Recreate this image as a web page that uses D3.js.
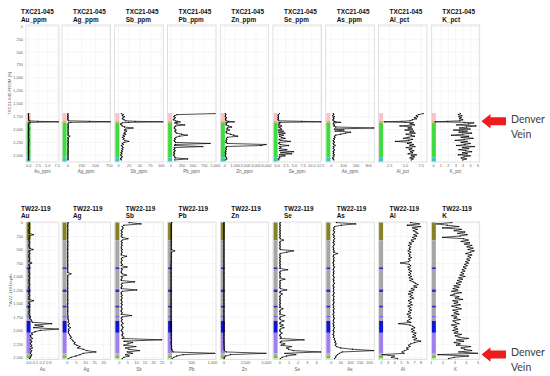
<!DOCTYPE html>
<html><head><meta charset="utf-8">
<script src="https://cdn.jsdelivr.net/npm/d3@7"></script>
<style>body{margin:0;background:#fff}svg{display:block}</style>
</head><body><svg id="c" width="550" height="376"></svg>
<script>
// ---------- DATA ----------
const topHole = "TXC21-045";
const bottomHole = "TW22-119";
const topElements = ["Au_ppm","Ag_ppm","Sb_ppm","Pb_ppm","Zn_ppm","Se_ppm","As_ppm","Al_pct","K_pct"];
const bottomElements = ["Au","Ag","Sb","Pb","Zn","Se","As","Al","K"];
const topYTitle = "TXC21-045 FROM (ft)";
const bottomYTitle = "TW22-119 Depth";
const depthTicks = [0,250,500,750,1000,1250,1500,1750,2000,2250,2500];

const topDepth = [1700,1720,1740,1760,1780,1800,1820,1840,1850,1860,1870,1880,1900,1920,1940,1960,1980,2000,2020,2040,2060,2080,2100,2120,2140,2160,2180,2200,2220,2240,2260,2280,2300,2320,2340,2360,2380,2400,2420,2440,2460,2480,2500,2520,2540,2560,2580,2600];
const topAu = [0.1,0.05,0.05,0.1,0.05,0.1,0.1,0.2,2.5,7.9, 0.5,0.2,0.1,0.05,0.1,0.05,0.1,0.2,0.1,0.05, 0.1,0.05,0.1,0.1,0.05,0.1,0.05,0.1,0.2,0.1, 0.05,0.1,0.1,0.05,0.1,0.05,0.1,0.05,0.1,0.1, 0.05,0.1,0.05,0.1,0.1,0.05,0.1,0.05];
const topAg = [10,5,8,5,10,5,8,15,400,780, 60,20,10,8,15,10,8,12,10,8, 10,15,8,10,40,8,10,12,8,10, 15,8,10,8,12,10,8,10,8,12, 10,8,10,8,10,8,10,8];
const topSb = [8,12,10,15,12,10,14,18,40,106, 25,10,6,8,10,15,35,18,15,20, 16,14,18,12,15,10,14,12,16,25, 14,10,12,8,10,12,9,11,8,10, 7,9,6,8,10,7,6,8];
const topPb = [1000,150,100,80,110,90,70,120,160,220, 140,100,150,320,120,100,90,110,130,100, 120,150,250,380,200,130,100,110,90,100, 120,890,110,100,730,90,100,80,110,90, 80,100,70,90,100,110,390,100];
const topZn = [100,150,120,100,200,150,120,180,400,960, 300,150,200,180,400,700,300,250,500,200, 180,250,600,900,1280,300,200,250,180,200, 150,300,4000,3520,200,180,150,200,120,150, 100,150,120,100,150,200,250,100];
const topSe = [0.8,0.5,0.4,0.5,0.4,0.5,0.4,0.6,7.2,12.8, 1.0,0.6,0.9,0.5,1.4,0.6,1.0,1.4,0.5,1.9, 0.6,2.4,0.7,1.9,0.8,1.4,2.4,0.7,1.0,3.9, 0.8,0.6,1.0,3.4,0.8,1.2,0.7,2.9,0.9,4.8, 1.2,4.3,0.8,2.4,0.7,0.9,0.5,0.6];
const topAs = [20,25,15,30,20,25,18,20,30,40, 80,25,20,30,25,40,348,30,107,35, 160,120,80,40,30,35,25,30,20,25, 30,20,25,35,20,25,20,30,25,20, 25,20,30,20,25,15,20,25];
const topAl = [7.9,7.2,6.8,7.0,6.5,6.8,6.2,5.8,4.5,1.7, 5.0,6.3,5.8,6.5,4.2,6.0,5.5,6.2,5.0,6.4, 5.8,6.6,5.2,6.0,6.5,5.5,4.8,6.2,5.6,3.5, 6.0,5.4,6.3,5.8,6.6,5.2,6.1,5.7,6.4,5.9, 6.2,5.5,6.8,6.0,6.5,5.8,6.3,6.0];
const topK = [3.7,3.4,3.9,3.5,3.8,3.6,4.0,3.6,2.0,0.3, 4.2,5.5,4.8,3.2,5.8,4.5,3.6,5.0,2.8,4.6, 3.5,5.2,4.0,2.5,4.8,3.8,5.4,4.2,3.0,4.6, 3.8,5.0,4.3,3.2,5.6,4.0,4.8,3.5,4.4,5.2, 4.0,4.6,3.4,5.0,4.2,3.8,4.5,4.0];

const bottomDepth = [0,25,50,75,100,125,150,175,200,225,250,275,300,325,350,375,400,425,450,475,500,525,550,575,600,625,650,675,700,725,750,775,800,825,850,875,900,925,950,975,1000,1025,1050,1075,1100,1125,1150,1175,1200,1225,1250,1275,1300,1325,1350,1375,1400,1425,1450,1475,1500,1525,1550,1575,1600,1625,1650,1675,1700,1725,1750,1775,1800,1825,1850,1875,1900,1925,1950,1975,2000,2025,2050,2075,2100,2125,2150,2175,2200,2225,2250,2275,2300,2325,2350,2375,2400,2425,2450,2475,2500,2525];
const bottomAu = [0.01,0.02,0.01,0.01,0.02,0.01,0.01,0.01,0.01,0.075, 0.01,0.02,0.01,0.01,0.01,0.02,0.01,0.01,0.01,0.02, 0.07,0.01,0.01,0.02,0.01,0.01,0.01,0.02,0.01,0.01, 0.05,0.01,0.01,0.02,0.01,0.01,0.01,0.01,0.02,0.01, 0.01,0.02,0.01,0.01,0.01,0.01,0.02,0.01,0.01,0.01, 0.02,0.01,0.01,0.01,0.02,0.01,0.01,0.01,0.075,0.01, 0.01,0.02,0.01,0.01,0.01,0.02,0.01,0.01,0.01,0.02, 0.03,0.02,0.04,0.05,0.06,0.35,0.1,0.22,0.08,0.45, 0.18,0.1,0.05,0.06,0.03,0.04,0.06,0.03,0.05,0.04, 0.03,0.05,0.04,0.06,0.03,0.05,0.04,0.03,0.05,0.04, 0.03,0.02];
const bottomAg = [0.8,0.6,0.5,0.6,0.5,0.7,0.5,0.6,0.5,0.6, 0.5,0.6,0.5,0.5,0.6,0.5,0.7,0.5,0.6,0.5, 0.6,0.5,0.5,0.6,0.5,0.6,0.5,0.5,0.6,0.5, 0.5,0.6,0.5,0.6,0.5,0.5,0.6,0.5,2.3,0.6, 0.5,0.6,0.5,0.5,0.6,0.5,0.6,0.5,0.5,0.6, 0.5,0.6,0.5,0.6,0.5,0.5,0.6,0.5,0.6,0.5, 0.6,0.5,0.5,0.6,0.5,0.6,0.5,0.6,0.5,0.6, 0.7,0.6,0.8,1.0,0.7,1.5,0.8,1.0,2.0,0.9, 1.2,0.9,1.0,1.5,1.8,2.5,2.0,3.0,3.5,4.5, 4.0,5.5,7.3,6.0,9.0,11.0,16.0,9.0,7.3,5.0, 2.3,0.8];
const bottomSb = [6,13,3,2,2.5,2,1.5,2,1.5,2, 1.5,2,5.4,2,1.5,2,1.5,2,1.5,1.5, 2,1.5,2,1.5,1.5,4.5,2,1.5,2,1.5, 1.5,2,1.5,4.8,1.5,2,1.5,1.5,2,4.5, 1.5,2,1.5,1.5,9.3,2,1.5,2,1.5,1.5, 10.5,2,1.5,1.5,2,1.5,2,1.5,1.5,2, 1.5,2,1.5,1.5,2,1.5,1.5,2,1.5,7.4, 2,1.5,2,1.5,2,2.5,1.5,2,2.5,2, 1.5,2,2.5,2,2,3,2,25,3,8, 5.4,3,10,4,6,12,5,8,4,6, 3,2];
const bottomPb = [30,20,15,20,15,20,15,20,15,20, 15,20,15,20,15,20,15,20,15,20, 15,100,20,15,20,15,20,15,20,15, 15,10,15,10,15,10,15,10,15,10, 15,10,15,10,15,10,15,10,15,10, 15,10,15,10,15,10,15,10,15,10, 15,10,15,10,15,10,15,10,15,10, 15,10,15,10,15,10,15,10,15,20, 15,20,15,20,15,20,15,25,20,15, 15,20,25,20,30,40,60,1070,300,150, 80,40];
const bottomZn = [50,40,45,40,50,40,45,40,50,40, 45,40,50,40,45,40,50,40,45,40, 50,45,40,50,40,45,40,50,40,45, 40,50,45,40,50,40,45,40,50,40, 45,40,50,40,45,40,50,40,45,40, 50,45,40,50,40,45,40,50,40,45, 40,50,45,40,50,40,45,40,50,40, 45,40,50,40,45,40,50,40,45,40, 50,45,40,50,40,45,40,50,40,45, 60,50,70,60,80,100,300,5000,800,250, 100,60];
const bottomSe = [0.1,0.05,0.1,0.05,0.1,0.05,0.1,0.05,0.1,0.05, 0.1,0.05,0.1,0.45,0.1,0.05,0.1,0.05,0.1,0.05, 0.1,1.55,0.8,0.1,0.05,0.1,0.05,0.1,0.05,0.1, 0.05,0.1,0.05,0.1,0.05,0.9,0.1,0.05,0.1,0.05, 0.1,0.05,0.6,0.1,0.05,0.1,0.05,0.1,0.05,0.1, 0.8,0.1,0.05,0.3,0.1,0.05,0.1,0.05,0.1,0.05, 0.1,0.05,0.1,0.05,0.4,0.1,0.05,0.1,0.05,0.6, 0.1,0.05,0.1,0.5,0.1,0.05,0.4,0.1,0.5,0.1, 0.05,0.1,0.3,0.1,0.05,0.2,0.1,2.7,0.2,0.1, 0.6,0.2,1.3,0.8,1.0,1.5,4.5,0.6,1.8,0.8, 0.3,0.1];
const bottomAs = [30,130,55,20,15,18,14,20,16,12, 18,15,20,14,17,13,19,15,12,16, 14,18,15,35,16,13,18,14,17,15, 12,16,14,19,15,13,17,14,16,12, 15,18,13,16,14,19,15,12,17,14, 16,13,18,15,12,17,14,16,13,18, 15,12,16,14,18,13,15,17,12,16, 14,18,15,13,17,12,16,14,19,15, 13,17,15,12,16,14,20,18,25,22, 28,24,30,52,113,226,60,45,35,28, 25,20];
const bottomAl = [6.5,7.8,6.0,8.0,6.8,7.5,6.9,7.3,7.6,7.0, 7.4,6.8,7.2,6.6,6.9,6.3,6.6,6.2,6.5,6.3, 6.4,6.1,6.5,6.2,6.4,6.3,6.6,6.2,6.4,6.2, 5.0,6.3,6.5,6.1,6.4,6.2,6.6,6.3,6.5,6.2, 6.6,6.3,6.8,6.4,6.9,7.2,7.6,7.0,7.4,6.6, 7.0,6.3,6.8,6.2,6.7,6.4,6.9,6.5,6.2,6.6, 6.3,6.7,6.1,6.5,6.3,6.6,6.2,6.5,6.0,6.4, 6.2,6.6,6.3,6.0,6.5,4.7,6.4,6.8,7.1,6.6, 7.0,6.7,7.3,6.9,7.2,6.8,7.4,7.0,8.0,7.1, 6.5,6.2,6.4,5.9,6.1,5.6,5.2,5.5,2.2,4.0, 3.6,4.5];
const bottomK = [2.8,1.5,2.4,3.4,2.0,3.6,3.0,3.9,3.3,4.1, 3.5,2.0,3.8,4.2,3.6,4.3,3.9,4.5,4.1,4.6, 4.2,4.7,4.4,4.0,4.5,4.2,4.4,4.1,4.3,4.0, 4.2,3.9,4.1,3.8,4.0,3.7,3.9,3.6,3.8,3.5, 3.9,3.4,3.7,3.3,3.6,3.2,3.5,3.0,3.4,2.9, 3.3,2.8,3.6,3.0,2.7,3.4,3.1,3.7,2.9,3.3, 3.0,3.5,2.8,3.2,3.6,2.9,3.3,3.0,3.4,2.8, 3.2,3.0,3.5,2.9,3.1,3.4,2.8,3.2,3.0,3.3, 2.9,3.3,3.0,3.6,3.1,3.4,4.2,3.2,3.8,3.0, 3.5,3.2,4.4,3.6,3.9,4.5,3.4,5.0,1.6,4.2, 3.0,2.5];

const topXDomains = [[-0.6,8.1],[-100,780],[-7.7,106],[-61,1023],[-384,4266],[-1.07,12.93],[-40,351],[0.8,8.5],[-0.23,6.3]];
const topXTicks = [[0,2.5,5,7.5],[0,250,500,750],[0,25,50,75,100],[0,250,500,750,1000],[0,1000,2000,3000,4000],[0,2.5,5,7.5,10,12.5],[0,100,200,300],[2.5,5,7.5],[0,1,2,3,4,5,6]];
const topXFormats = [".1f",",",",",",",",",".1f",",",".1f","d"];
const bottomXDomains = [[-0.035,0.46],[-2.6,24],[-2.3,25.9],[-73,1098],[-390,5330],[-0.69,4.6],[-26,227],[1.63,8.97],[1.03,5.19]];
const bottomXTicks = [[0,0.1,0.2,0.3],[0,5,10,15,20],[0,5,10,15,20,25],[0,500,1000],[0,2500,5000],[0,1,2,3,4],[0,50,100,150,200],[2,3,4,5,6,7,8],[1,2,3,4,5]];
const bottomXFormats = [".1f","d","d",",",",","d","d","d","d"];

const topLithFrom = [1690,1840,1880,2550];
const topLithTo = [1840,1880,2550,2630];
const topLithColor = ["#f5c4c8","#f0a868","#3fdc3f","#38c4c8"];
const bottomLithFrom = [0,330,830,870,1240,1290,1540,1580,1725,1765,1825,2045,2430,2475];
const bottomLithTo = [330,830,870,1240,1290,1540,1580,1725,1765,1825,2045,2430,2475,2520];
const bottomLithColor = ["#858225","#a6a6a6","#2a2ad0","#a6a6a6","#2a2ad0","#a6a6a6","#2a2ad0","#a6a6a6","#6a6ae6","#a6a6a6","#1212d8","#9d7ff0","#b0b0b0","#70c040"];

// ---------- DRAW ----------
const svg = d3.select("#c");
const NARROW = "'Liberation Sans Narrow','Arial Narrow','Liberation Sans',Arial,sans-serif";
function panelLeft(i){ return i===0 ? 26 : 62 + (i-1)*52.75; }
function panelRight(i){ return i===0 ? 59 : panelLeft(i)+48.5; }

function drawRow(cfg){
  const y = d3.scaleLinear().domain(cfg.yDomain).range([cfg.top, cfg.bottom]);
  cfg.elements.forEach((el,i)=>{
    const L = panelLeft(i), R = panelRight(i);
    const x = d3.scaleLinear().domain(cfg.xDomains[i]).range([L,R]);
    const g = svg.append("g");
    g.append("rect").attr("x",L).attr("y",cfg.top).attr("width",R-L).attr("height",cfg.bottom-cfg.top)
      .attr("fill","#fff").attr("stroke","#d2d2d2").attr("stroke-width",0.7);
    const gx = g.append("g").attr("transform",`translate(0,${cfg.bottom})`)
      .call(d3.axisBottom(x).tickValues(cfg.xTicks[i]).tickSize(-(cfg.bottom-cfg.top)).tickFormat(""));
    gx.select(".domain").remove();
    gx.selectAll("line").attr("stroke","#ececec").attr("stroke-width",0.5);
    const gy = g.append("g").attr("transform",`translate(${L},0)`)
      .call(d3.axisRight(y).tickValues(depthTicks).tickSize(R-L).tickFormat(""));
    gy.select(".domain").remove();
    gy.selectAll("line").attr("stroke","#ececec").attr("stroke-width",0.5);
    const fmt = d3.format(cfg.xFormats[i]);
    const ax = g.append("g").attr("transform",`translate(0,${cfg.bottom})`)
      .call(d3.axisBottom(x).tickValues(cfg.xTicks[i]).tickSize(0).tickPadding(2.2).tickFormat(fmt));
    ax.select(".domain").remove();
    ax.selectAll("text").attr("font-size",3.9).attr("fill","#606060").attr("font-family",NARROW);
    g.append("text").attr("x",(L+R)/2).attr("y",cfg.bottom+11).attr("text-anchor","middle")
      .attr("font-size",4.5).attr("fill","#606060").attr("font-family",NARROW).text(el);
    const tx = i===0 ? 21 : L+11;
    g.append("text").attr("x",tx).attr("y",cfg.titleY).attr("font-size",6.4).attr("font-weight","bold")
      .attr("font-family",NARROW).attr("fill","#111").text(cfg.hole);
    g.append("text").attr("x",tx).attr("y",cfg.titleY+7.6).attr("font-size",6.4).attr("font-weight","bold")
      .attr("font-family",NARROW).attr("fill","#111").text(el);
    g.selectAll(".lith").data(cfg.lithFrom.map((f,k)=>({f, t:cfg.lithTo[k], c:cfg.lithColor[k]})))
      .join("rect").attr("x",L+0.6).attr("width",4).attr("y",d=>y(d.f)).attr("height",d=>y(d.t)-y(d.f)).attr("fill",d=>d.c);
    const cid = `clip-${cfg.key}-${i}`;
    g.append("clipPath").attr("id",cid).append("rect").attr("x",L).attr("y",cfg.top).attr("width",R-L).attr("height",cfg.bottom-cfg.top);
    const vals = cfg.values[i];
    const pts = cfg.depth.map((d,k)=>[vals[k], d]);
    const dg = g.append("g").attr("clip-path",`url(#${cid})`);
    dg.append("path").datum(pts).attr("fill","none").attr("stroke","#000").attr("stroke-width",0.7)
      .attr("d", d3.line().x(p=>x(p[0])).y(p=>y(p[1])));
    dg.selectAll("circle").data(pts).join("circle").attr("cx",p=>x(p[0])).attr("cy",p=>y(p[1])).attr("r",0.65).attr("fill","#000");
    if(i===0){
      const ay = g.append("g").attr("transform",`translate(${L},0)`)
        .call(d3.axisLeft(y).tickValues(depthTicks).tickSize(0).tickPadding(3).tickFormat(d3.format(",")));
      ay.select(".domain").remove();
      ay.selectAll("text").attr("font-size",3.9).attr("fill","#606060").attr("font-family",NARROW);
      g.append("text").attr("transform",`translate(${cfg.yTitleX},${(cfg.top+cfg.bottom)/2}) rotate(-90)`)
        .attr("text-anchor","middle").attr("font-size",4.4).attr("fill","#606060").attr("font-family",NARROW).text(cfg.yTitle);
    }
  });
}

drawRow({key:"top", hole:topHole, elements:topElements, yTitle:topYTitle, yTitleX:10.5,
  yDomain:[-20,2640], top:25, bottom:162, titleY:14,
  xDomains:topXDomains, xTicks:topXTicks, xFormats:topXFormats,
  depth:topDepth, values:[topAu,topAg,topSb,topPb,topZn,topSe,topAs,topAl,topK],
  lithFrom:topLithFrom, lithTo:topLithTo, lithColor:topLithColor});

drawRow({key:"bot", hole:bottomHole, elements:bottomElements, yTitle:bottomYTitle, yTitleX:11.5,
  yDomain:[-10,2540], top:222, bottom:359.5, titleY:210.5,
  xDomains:bottomXDomains, xTicks:bottomXTicks, xFormats:bottomXFormats,
  depth:bottomDepth, values:[bottomAu,bottomAg,bottomSb,bottomPb,bottomZn,bottomSe,bottomAs,bottomAl,bottomK],
  lithFrom:bottomLithFrom, lithTo:bottomLithTo, lithColor:bottomLithColor});

function arrow(cy){
  const p = d3.path();
  p.moveTo(481.5, cy); p.lineTo(490.5, cy-7.2); p.lineTo(490.5, cy-4); p.lineTo(506, cy-4);
  p.lineTo(506, cy+4); p.lineTo(490.5, cy+4); p.lineTo(490.5, cy+7.2); p.closePath();
  svg.append("path").attr("d", p.toString()).attr("fill","#ee1c1c");
  svg.append("text").attr("x",511).attr("y",cy+1.5).attr("font-size",10.5).attr("font-family","Lato, 'Open Sans', sans-serif").attr("fill","#404040").text("Denver");
  svg.append("text").attr("x",511).attr("y",cy+16.5).attr("font-size",10.5).attr("font-family","Lato, 'Open Sans', sans-serif").attr("fill","#404040").text("Vein");
}
arrow(121.3);
arrow(354.5);
</script></body></html>
